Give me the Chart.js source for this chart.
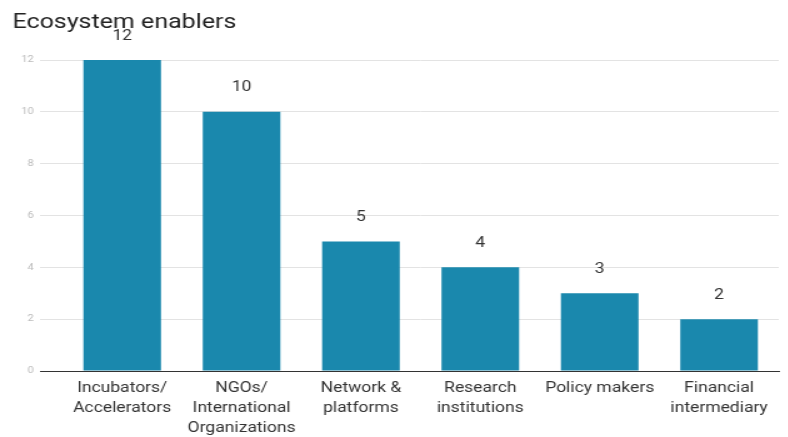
<!DOCTYPE html>
<html>
<head>
<meta charset="utf-8">
<script src="https://cdn.jsdelivr.net/npm/chart.js@4/dist/chart.umd.min.js"></script>
<style>
  html, body { margin: 0; padding: 0; background: #fff; overflow: hidden; }
  #wrap { width: 788px; height: 437px; overflow: hidden; }
  /* the reference is stretched horizontally, so draw narrow and widen */
  #chart { transform: scale(1.25, 1); transform-origin: 0 0; }
</style>
</head>
<body>
<div id="wrap"><canvas id="chart" width="630" height="437"></canvas></div>
<script>
const categories = [
  ['Incubators/', 'Accelerators'],
  ['NGOs/', 'International', 'Organizations'],
  ['Network &', 'platforms'],
  ['Research', 'institutions'],
  ['Policy makers'],
  ['Financial', 'intermediary']
];
const counts = [12, 10, 5, 4, 3, 2];
const yTicks = [0, 2, 4, 6, 8, 10, 12];

// value labels above each bar
const valueLabels = {
  id: 'valueLabels',
  afterDatasetsDraw(chart) {
    const ctx = chart.ctx;
    const meta = chart.getDatasetMeta(0);
    ctx.save();
    ctx.font = '14px Roboto';
    ctx.fillStyle = '#333';
    ctx.textAlign = 'center';
    ctx.textBaseline = 'middle';
    meta.data.forEach((bar, i) => {
      ctx.fillText(String(counts[i]), bar.x, bar.y - 24);
    });
    ctx.restore();
  }
};

new Chart(document.getElementById('chart').getContext('2d'), {
  type: 'bar',
  data: {
    labels: categories,
    datasets: [{
      data: counts,
      backgroundColor: '#1a88ad',
      categoryPercentage: 1,
      barPercentage: 0.65
    }]
  },
  options: {
    responsive: false,
    animation: false,
    devicePixelRatio: 1,
    layout: { padding: { left: 10, right: 7, top: 0, bottom: 0 } },
    plugins: {
      legend: { display: false },
      tooltip: { enabled: false },
      title: {
        display: true,
        text: 'Ecosystem enablers',
        align: 'start',
        color: '#222',
        font: { family: 'Roboto', size: 20, weight: 'normal', lineHeight: 1.2 },
        padding: { top: 11, bottom: 25 }
      }
    },
    scales: {
      x: {
        grid: { display: false, drawTicks: false },
        border: { display: true, color: '#333', width: 1 },
        ticks: {
          color: '#333',
          font: { family: 'Roboto', size: 14, lineHeight: 20 / 14 },
          padding: 7,
          maxRotation: 0,
          autoSkip: false
        },
        afterFit: s => { s.height = 66; }
      },
      y: {
        min: 0,
        max: 12,
        afterBuildTicks: s => { s.ticks = yTicks.map(v => ({ value: v })); },
        grid: {
          color: c => c.tick && c.tick.value === 0 ? '#333' : '#e3e3e3',
          tickColor: c => c.tick && c.tick.value === 0 ? '#333' : '#e3e3e3',
          tickLength: 18
        },
        border: { display: false },
        ticks: {
          color: '#bbb',
          font: { family: 'Roboto', size: 9 },
          padding: 5
        },
        afterFit: s => { s.width = 40; }
      }
    }
  },
  plugins: [valueLabels]
});
</script>
</body>
</html>
